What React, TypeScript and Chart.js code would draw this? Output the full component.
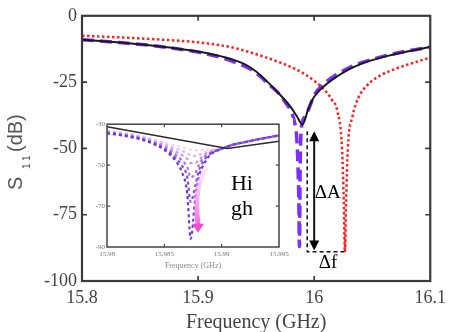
import React, { useEffect, useRef } from "react";
import { Chart, registerables } from "chart.js";
Chart.register(...registerables);

// ---------- main chart data ----------
const freqBlack = [15.8, 15.83, 15.86, 15.88, 15.9, 15.92, 15.94, 15.95, 15.96, 15.97, 15.98, 15.985, 15.99, 15.995, 16.0, 16.01, 16.02, 16.03, 16.04, 16.06, 16.08, 16.1];
const s11Black = [-9, -10, -11.2, -12.2, -13.5, -15.3, -18.2, -21, -25, -29.5, -34.5, -37.8, -41, -35, -30.5, -26, -22.8, -20.2, -18.2, -15.5, -13.5, -11.8];

const freqPurple = [15.8, 15.83, 15.86, 15.88, 15.9, 15.92, 15.94, 15.95, 15.96, 15.97, 15.975, 15.98, 15.983, 15.985, 15.986, 15.9868, 15.9873, 15.988, 15.9885, 15.99, 15.992, 15.995, 16.0, 16.01, 16.02, 16.03, 16.04, 16.06, 16.08, 16.1];
const s11Purple = [-9, -10, -11.2, -12.3, -13.7, -15.8, -19, -21.5, -25.5, -29.5, -32.5, -36, -40, -46, -56, -70, -87, -55, -46, -40, -38, -35.5, -30, -25, -22, -19.6, -17.8, -15.2, -13.3, -11.8];

const freqRed = [15.8, 15.84, 15.88, 15.9, 15.93, 15.95, 15.97, 15.99, 16.0, 16.01, 16.015, 16.02, 16.024, 16.0255, 16.0265, 16.0275, 16.029, 16.033, 16.038, 16.045, 16.057, 16.07, 16.085, 16.1];
const s11Red = [-7.5, -8.3, -9.3, -10, -12, -14.5, -17.5, -21.5, -24.5, -28.5, -31.5, -36, -50, -70, -89, -70, -50, -38, -31, -26.5, -22.5, -20, -17.8, -15.7];

const xTicks = [15.8, 15.9, 16, 16.1];
const xTickLabels = ["15.8", "15.9", "16", "16.1"];
const yTicks = [0, -25, -50, -75, -100];
const yTickLabels = ["0", "-25", "-50", "-75", "-100"];

// annotation values (data units)
const dAFreq = 16.0;
const dATop = -43.5;
const dABottom = -88.5;
const dfLeft = 15.994;
const dfRight = 16.0265;
const dfLevel = -89;
const dALabelPos = [16.0005, -68.7];
const dfLabelPos = [16.004, -95.1];

// ---------- inset data ----------
const insetFreq = [15.98, 15.981, 15.982, 15.983, 15.984, 15.985, 15.986, 15.9865, 15.987, 15.9873, 15.9877, 15.988, 15.9885, 15.989, 15.99, 15.991, 15.992, 15.993, 15.994, 15.995];
const insetS11a = [-34.5, -35.2, -36.2, -37.5, -39.5, -42.5, -48, -53, -64, -86, -66, -56, -49, -45, -42, -40, -38.8, -37.6, -36.5, -35.5];
const insetS11b = [-34.3, -35, -36, -37.3, -39.2, -42, -46.5, -50, -56, -68, -60, -53, -47.5, -44.5, -42, -40, -38.8, -37.6, -36.5, -35.5];
const insetS11c = [-34, -34.8, -35.7, -37, -38.8, -41.3, -45, -47.5, -51, -56, -54, -50, -46, -44, -42, -40, -38.8, -37.6, -36.5, -35.5];
const insetS11d = [-33.8, -34.5, -35.4, -36.6, -38.3, -40.5, -43.5, -45, -47, -49, -49, -47.5, -45, -43.5, -42, -40, -38.8, -37.6, -36.5, -35.5];
const insetS11e = [-33.5, -34.2, -35, -36.2, -37.8, -39.7, -42, -43, -44.3, -45.2, -45.5, -45, -44, -43, -42, -40, -38.8, -37.6, -36.5, -35.5];
const insetS11f = [-33.2, -33.9, -34.7, -35.8, -37.2, -38.8, -40.5, -41.3, -42, -42.5, -42.8, -42.7, -42.5, -42.3, -41.8, -40, -38.8, -37.6, -36.5, -35.5];
const insetColors = ["#6b35e0", "#8a4ee6", "#a872e6", "#c894e8", "#e2b6ec", "#f2d4f0"];

const insetBlackFreq = [15.98, 15.9905, 15.995];
const insetBlackS11 = [-31.3, -41.9, -38.3];

const insetXTicks = [15.98, 15.985, 15.99, 15.995];
const insetXTickLabels = ["15.98", "15.985", "15.99", "15.995"];
const insetYTicks = [-30, -50, -70, -90];
const insetYTickLabels = ["-30", "-50", "-70", "-90"];

const arrowStart = [15.98872, -51];
const arrowCtrl = [15.9875, -60];
const arrowEnd = [15.98794, -83];
const hiPos = [15.99081, -62.2];
const ghPos = [15.99081, -74.4];

const toPts = (xs: number[], ys: number[]) => xs.map((x, i) => ({ x, y: ys[i] }));

const SERIF = '"Liberation Serif", "Times New Roman", serif';
const SANS = '"Liberation Sans", Arial, sans-serif';

function drawFrame(ctx: CanvasRenderingContext2D, chart: any, xt: number[], yt: number[], len: number, lw: number, color: string) {
  const a = chart.chartArea;
  const { x, y } = chart.scales;
  ctx.save();
  ctx.strokeStyle = color;
  ctx.lineWidth = lw;
  ctx.setLineDash([]);
  ctx.strokeRect(a.left, a.top, a.right - a.left, a.bottom - a.top);
  ctx.lineWidth = Math.max(1, lw * 0.75);
  ctx.beginPath();
  xt.forEach((v) => {
    const px = x.getPixelForValue(v);
    ctx.moveTo(px, a.bottom); ctx.lineTo(px, a.bottom - len);
    ctx.moveTo(px, a.top); ctx.lineTo(px, a.top + len);
  });
  yt.forEach((v) => {
    const py = y.getPixelForValue(v);
    ctx.moveTo(a.left, py); ctx.lineTo(a.left + len, py);
    ctx.moveTo(a.right, py); ctx.lineTo(a.right - len, py);
  });
  ctx.stroke();
  ctx.restore();
}

function arrowHead(ctx: CanvasRenderingContext2D, tx: number, ty: number, dir: number, w: number, h: number) {
  ctx.beginPath();
  ctx.moveTo(tx, ty);
  ctx.lineTo(tx - w, ty + dir * h);
  ctx.lineTo(tx + w, ty + dir * h);
  ctx.closePath();
  ctx.fill();
}

const mainDecor = {
  id: "mainDecor",
  beforeDraw(chart: any) {
    const ctx = chart.ctx;
    ctx.save();
    ctx.fillStyle = "#fff";
    ctx.fillRect(0, 0, chart.width, chart.height);
    ctx.restore();
  },
  afterDraw(chart: any) {
    const ctx: CanvasRenderingContext2D = chart.ctx;
    const a = chart.chartArea;
    const { x, y } = chart.scales;
    drawFrame(ctx, chart, xTicks.slice(1, -1), yTicks.slice(1, -1), 5, 2.2, "#3a3a3a");

    ctx.save();
    // x title
    ctx.fillStyle = "#444";
    ctx.font = `20px ${SERIF}`;
    ctx.textAlign = "center";
    ctx.textBaseline = "alphabetic";
    ctx.fillText("Frequency (GHz)", (a.left + a.right) / 2, 328);

    // y title S11(dB)
    ctx.save();
    ctx.translate(22, 190);
    ctx.rotate(-Math.PI / 2);
    ctx.fillStyle = "#555";
    ctx.textAlign = "left";
    ctx.font = `20px ${SANS}`;
    ctx.fillText("S", 0, 0);
    ctx.font = `10px ${SANS}`;
    ctx.fillText("1", 21, 8);
    ctx.fillText("1", 29, 8);
    ctx.font = `20px ${SANS}`;
    ctx.fillText("(dB)", 38, 0);
    ctx.restore();

    // annotations
    ctx.strokeStyle = "#111";
    ctx.fillStyle = "#000";
    ctx.lineWidth = 1.5;
    ctx.setLineDash([4, 3]);
    const xl = x.getPixelForValue(dfLeft);
    const xr = x.getPixelForValue(dfRight);
    const yt = y.getPixelForValue(dATop);
    const yl = y.getPixelForValue(dfLevel);
    ctx.beginPath();
    ctx.moveTo(xl, yt);
    ctx.lineTo(xl, yl);
    ctx.lineTo(xr, yl);
    ctx.stroke();
    ctx.setLineDash([]);

    const xa = x.getPixelForValue(dAFreq);
    const ya1 = y.getPixelForValue(dATop);
    const ya2 = y.getPixelForValue(dABottom);
    ctx.lineWidth = 2;
    ctx.beginPath();
    ctx.moveTo(xa, ya1 + 8);
    ctx.lineTo(xa, ya2 - 8);
    ctx.stroke();
    arrowHead(ctx, xa, ya1, 1, 5, 10);
    arrowHead(ctx, xa, ya2, -1, 5, 10);

    ctx.font = `19px ${SERIF}`;
    ctx.textAlign = "left";
    ctx.fillText("\u0394A", x.getPixelForValue(dALabelPos[0]), y.getPixelForValue(dALabelPos[1]));
    ctx.fillText("\u0394f", x.getPixelForValue(dfLabelPos[0]), y.getPixelForValue(dfLabelPos[1]));
    ctx.restore();
  },
};

const insetDecor = {
  id: "insetDecor",
  beforeDraw(chart: any) {
    const ctx = chart.ctx;
    ctx.save();
    ctx.fillStyle = "#fff";
    ctx.fillRect(0, 0, chart.width, chart.height);
    ctx.restore();
  },
  afterDraw(chart: any) {
    const ctx: CanvasRenderingContext2D = chart.ctx;
    const a = chart.chartArea;
    const { x, y } = chart.scales;
    drawFrame(ctx, chart, insetXTicks.slice(1, -1), insetYTicks.slice(1, -1), 3, 1.5, "#444");
    ctx.save();
    ctx.fillStyle = "#888";
    ctx.font = `8px ${SERIF}`;
    ctx.textAlign = "center";
    ctx.fillText("Frequency (GHz)", (a.left + a.right) / 2, chart.height - 4);

    // pink arrow
    const sx = x.getPixelForValue(arrowStart[0]), sy = y.getPixelForValue(arrowStart[1]);
    const cx = x.getPixelForValue(arrowCtrl[0]), cy = y.getPixelForValue(arrowCtrl[1]);
    const ex = x.getPixelForValue(arrowEnd[0]), ey = y.getPixelForValue(arrowEnd[1]);
    const g = ctx.createLinearGradient(0, sy, 0, ey);
    g.addColorStop(0, "rgba(250,215,245,0.5)");
    g.addColorStop(1, "#f050dc");
    ctx.strokeStyle = g;
    ctx.lineWidth = 5;
    ctx.lineCap = "butt";
    ctx.beginPath();
    ctx.moveTo(sx, sy);
    ctx.quadraticCurveTo(cx, cy, ex, ey - 8);
    ctx.stroke();
    ctx.fillStyle = "#f04cd8";
    arrowHead(ctx, ex, ey, -1, 6, 9);

    ctx.fillStyle = "#000";
    ctx.font = `22px ${SERIF}`;
    ctx.textAlign = "left";
    ctx.fillText("Hi", x.getPixelForValue(hiPos[0]), y.getPixelForValue(hiPos[1]));
    ctx.fillText("gh", x.getPixelForValue(ghPos[0]), y.getPixelForValue(ghPos[1]));
    ctx.restore();
  },
};

export default function App() {
  const mainRef = useRef<HTMLCanvasElement>(null);
  const insetRef = useRef<HTMLCanvasElement>(null);

  useEffect(() => {
    document.body.style.margin = "0";
    const main = new Chart(mainRef.current!, {
      type: "line",
      data: {
        datasets: [
          {
            label: "black",
            data: toPts(freqBlack, s11Black),
            borderColor: "#1a1a1a",
            borderWidth: 2,
            pointRadius: 0,
            cubicInterpolationMode: "monotone",
            order: 1,
          },
          {
            label: "purple",
            data: toPts(freqPurple, s11Purple),
            borderColor: "#7b2ff7",
            borderWidth: 3.5,
            borderDash: [12, 6],
            pointRadius: 0,
            cubicInterpolationMode: "monotone",
            order: 2,
          },
          {
            label: "red",
            data: toPts(freqRed, s11Red),
            borderColor: "#ff2020",
            borderWidth: 2.5,
            borderDash: [2.5, 2.5],
            pointRadius: 0,
            cubicInterpolationMode: "monotone",
            order: 3,
          },
        ],
      },
      options: {
        animation: false,
        responsive: false,
        devicePixelRatio: 1,
        parsing: false as any,
        layout: { padding: { top: 13, right: 17, left: 0, bottom: 0 } },
        plugins: { legend: { display: false }, tooltip: { enabled: false } },
        scales: {
          x: {
            type: "linear",
            min: 15.8,
            max: 16.1,
            grid: { display: false, drawTicks: false },
            border: { display: false },
            afterBuildTicks: (s: any) => { s.ticks = xTicks.map((v) => ({ value: v })); },
            afterFit: (s: any) => { s.height = 51; },
            ticks: {
              autoSkip: false,
              maxRotation: 0,
              padding: 6,
              color: "#444",
              font: { family: SERIF, size: 18 },
              callback: (_v: any, i: number) => xTickLabels[i],
            },
          },
          y: {
            type: "linear",
            min: -100,
            max: 0,
            grid: { display: false, drawTicks: false },
            border: { display: false },
            afterBuildTicks: (s: any) => { s.ticks = yTicks.map((v) => ({ value: v })); },
            afterFit: (s: any) => { s.width = 82; },
            ticks: {
              autoSkip: false,
              padding: 5,
              color: "#444",
              font: { family: SERIF, size: 18 },
              callback: (_v: any, i: number) => yTickLabels[i],
            },
          },
        },
      },
      plugins: [mainDecor],
    } as any);

    const insetSeries = [insetS11f, insetS11e, insetS11d, insetS11c, insetS11b, insetS11a];
    const insetCols = [...insetColors].reverse();
    const inset = new Chart(insetRef.current!, {
      type: "line",
      data: {
        datasets: [
          {
            label: "black",
            data: toPts(insetBlackFreq, insetBlackS11),
            borderColor: "#2a2a2a",
            borderWidth: 1.5,
            pointRadius: 0,
            order: 0,
          },
          ...insetSeries.map((ys, i) => ({
            label: "c" + i,
            data: toPts(insetFreq, ys),
            borderColor: insetCols[i],
            borderWidth: 2.2,
            borderDash: [3, 3],
            pointRadius: 0,
            cubicInterpolationMode: "monotone",
            order: 10 - i,
          })),
        ],
      },
      options: {
        animation: false,
        responsive: false,
        devicePixelRatio: 1,
        parsing: false as any,
        layout: { padding: { top: 6, right: 14, left: 0, bottom: 0 } },
        plugins: { legend: { display: false }, tooltip: { enabled: false } },
        scales: {
          x: {
            type: "linear",
            min: 15.98,
            max: 15.995,
            grid: { display: false, drawTicks: false },
            border: { display: false },
            afterBuildTicks: (s: any) => { s.ticks = insetXTicks.map((v) => ({ value: v })); },
            afterFit: (s: any) => { s.height = 25; },
            ticks: {
              autoSkip: false,
              maxRotation: 0,
              padding: 3,
              color: "#777",
              font: { family: SERIF, size: 7 },
              callback: (_v: any, i: number) => insetXTickLabels[i],
            },
          },
          y: {
            type: "linear",
            min: -90,
            max: -30,
            grid: { display: false, drawTicks: false },
            border: { display: false },
            afterBuildTicks: (s: any) => { s.ticks = insetYTicks.map((v) => ({ value: v })); },
            afterFit: (s: any) => { s.width = 17; },
            ticks: {
              autoSkip: false,
              padding: 2,
              color: "#777",
              font: { family: SERIF, size: 7 },
              callback: (_v: any, i: number) => insetYTickLabels[i],
            },
          },
        },
      },
      plugins: [insetDecor],
    } as any);

    return () => {
      main.destroy();
      inset.destroy();
    };
  }, []);

  return (
    <div style={{ position: "fixed", left: 0, top: 0, width: 452, height: 332, background: "#fff" }}>
      <canvas ref={mainRef} width={452} height={332} style={{ position: "absolute", left: 0, top: 0 }} />
      <canvas ref={insetRef} width={203} height={154} style={{ position: "absolute", left: 90, top: 118 }} />
    </div>
  );
}
